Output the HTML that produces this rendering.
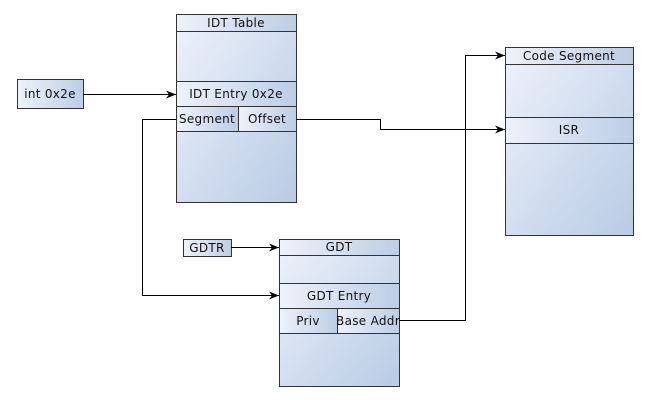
<!DOCTYPE html>
<html><head><meta charset="utf-8"><style>
html,body{margin:0;padding:0;background:#fff;}
svg{display:block;}
text{font-family:"DejaVu Sans","Liberation Sans",sans-serif;font-size:12px;letter-spacing:0.3px;fill:#111;}
</style></head><body>
<svg width="650" height="400" viewBox="0 0 650 400" xmlns="http://www.w3.org/2000/svg">
<defs>
<linearGradient id="g" x1="0" y1="0" x2="1" y2="1">
<stop offset="0" stop-color="#eef2fa"/><stop offset="1" stop-color="#b8cbe5"/>
</linearGradient>
<linearGradient id="h" x1="0" y1="0" x2="1" y2="0">
<stop offset="0" stop-color="#eef2fa"/><stop offset="1" stop-color="#bccde6"/>
</linearGradient>
<marker id="a" markerWidth="10" markerHeight="8" refX="10" refY="4" orient="auto" markerUnits="userSpaceOnUse">
<path d="M0,0 L10,4 L0,8 L3,4 z" fill="#000"/>
</marker>
</defs>
<g stroke="#333" stroke-width="1">
<rect x="176.5" y="14.5" width="120" height="188" fill="url(#g)"/>
<rect x="176.5" y="14.5" width="120" height="17" fill="url(#h)"/>
<rect x="176.5" y="81.5" width="120" height="25" fill="url(#h)"/>
<rect x="176.5" y="106.5" width="62" height="25" fill="url(#h)"/>
<rect x="238.5" y="106.5" width="58" height="25" fill="url(#h)"/>
<rect x="17.5" y="79.5" width="66" height="29" fill="url(#h)"/>
<rect x="183.5" y="239.5" width="48" height="17" fill="url(#h)"/>
<rect x="279.5" y="239.5" width="120" height="147" fill="url(#g)"/>
<rect x="279.5" y="239.5" width="120" height="16" fill="url(#h)"/>
<rect x="279.5" y="283.5" width="120" height="25" fill="url(#h)"/>
<rect x="279.5" y="308.5" width="58" height="25" fill="url(#h)"/>
<rect x="337.5" y="308.5" width="62" height="25" fill="url(#h)"/>
<rect x="505.5" y="47.5" width="128" height="188" fill="url(#g)"/>
<rect x="505.5" y="47.5" width="128" height="17" fill="url(#h)"/>
<rect x="505.5" y="117.5" width="128" height="26" fill="url(#h)"/>
</g>
<g stroke="#000" stroke-width="1" fill="none">
<path d="M83,94.5 H176" marker-end="url(#a)"/>
<path d="M176,119.5 H142.5 V295.5 H279" marker-end="url(#a)"/>
<path d="M296,119.5 H380.5 V129.5 H505" marker-end="url(#a)"/>
<path d="M399,320.5 H465.5 V55.5 H505" marker-end="url(#a)"/>
<path d="M231,247.5 H279" marker-end="url(#a)"/>
</g>
<text x="236" y="27" text-anchor="middle">IDT Table</text>
<text x="236" y="98" text-anchor="middle">IDT Entry 0x2e</text>
<text x="207" y="123" text-anchor="middle">Segment</text>
<text x="267" y="123" text-anchor="middle">Offset</text>
<text x="50" y="98" text-anchor="middle">int 0x2e</text>
<text x="207" y="252" text-anchor="middle">GDTR</text>
<text x="339" y="251" text-anchor="middle">GDT</text>
<text x="339" y="300" text-anchor="middle">GDT Entry</text>
<text x="308" y="325" text-anchor="middle">Priv</text>
<text x="368" y="325" text-anchor="middle">Base Addr</text>
<text x="569" y="60" text-anchor="middle">Code Segment</text>
<text x="569" y="134" text-anchor="middle">ISR</text>
</svg>
</body></html>
